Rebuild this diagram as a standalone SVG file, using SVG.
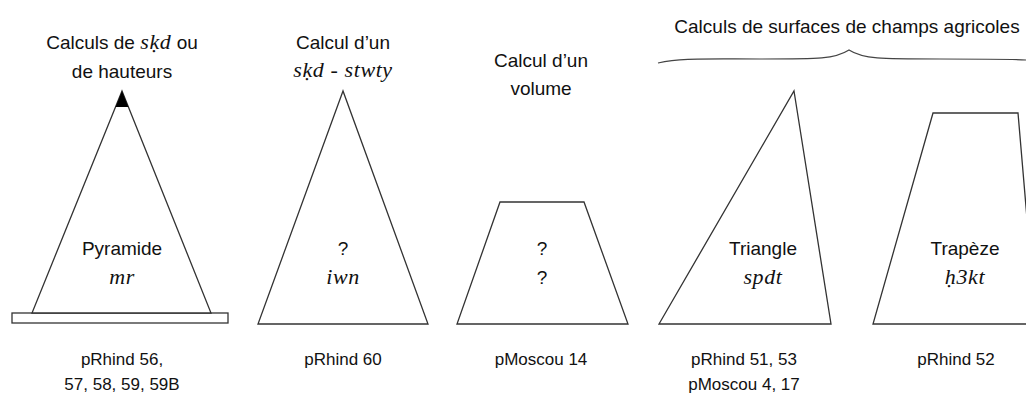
<svg xmlns="http://www.w3.org/2000/svg" width="1026" height="394" viewBox="0 0 1026 394">
<style>
.sh{fill:#fff;stroke:#333;stroke-width:1.3;stroke-linejoin:miter}
.t{font-family:"Liberation Sans",Arial,sans-serif;font-size:19px;fill:#111;text-anchor:middle}
.b{font-family:"Liberation Sans",Arial,sans-serif;font-size:17px;fill:#111;text-anchor:middle}
.i{font-family:"Liberation Serif","Times New Roman",serif;font-style:italic;font-size:22px;letter-spacing:0.6px}
</style>
<rect width="1026" height="394" fill="#fff"/>
<g id="brace">
<path d="M658,63 C680,58 700,59 760,59 C820,59 835,59 849,50 C863,59 880,59 940,59 C990,59 1010,59 1026,60" fill="none" stroke="#444" stroke-width="1.2"/>
<text class="t" x="847" y="33">Calculs de surfaces de champs agricoles</text>
</g>
<g id="pyramide">
<text class="t" x="122" y="49">Calculs de <tspan class="i">sḳd</tspan> ou</text>
<text class="t" x="122" y="78">de hauteurs</text>
<rect class="sh" x="12" y="313" width="216" height="10"/>
<polygon class="sh" points="122,91 32,313 211,313"/>
<polygon points="122,91 115.5,107 128.4,107" fill="#000"/>
<text class="t" x="122" y="255">Pyramide</text>
<text class="t i" x="122" y="284">mr</text>
<text class="b" x="122" y="365">pRhind 56,</text>
<text class="b" x="122" y="390">57, 58, 59, 59B</text>
</g>
<g id="iwn">
<text class="t" x="343" y="49">Calcul d’un</text>
<text class="t i" x="343" y="77">sḳd - stwty</text>
<polygon class="sh" points="343,91 258,324 428,324"/>
<text class="t" x="343" y="255">?</text>
<text class="t i" x="343" y="284">iwn</text>
<text class="b" x="343" y="365">pRhind 60</text>
</g>
<g id="volume">
<text class="t" x="541" y="67">Calcul d’un</text>
<text class="t" x="541" y="95">volume</text>
<polygon class="sh" points="500,202 584,202 628,324 457,324"/>
<text class="t" x="542" y="255">?</text>
<text class="t" x="542" y="284">?</text>
<text class="b" x="541" y="365">pMoscou 14</text>
</g>
<g id="triangle">
<polygon class="sh" points="794,91 831,324 659,324"/>
<text class="t" x="763" y="255">Triangle</text>
<text class="t i" x="763" y="284">spdt</text>
<text class="b" x="744" y="365">pRhind 51, 53</text>
<text class="b" x="744" y="390">pMoscou 4, 17</text>
</g>
<g id="trapeze">
<polygon class="sh" points="933,113 1018,113 1036,324 873,324"/>
<text class="t" x="965" y="255">Trapèze</text>
<text class="t i" x="965" y="284">ḥ3kt</text>
<text class="b" x="956" y="365">pRhind 52</text>
</g>
<g id="connectors"></g>
</svg>
